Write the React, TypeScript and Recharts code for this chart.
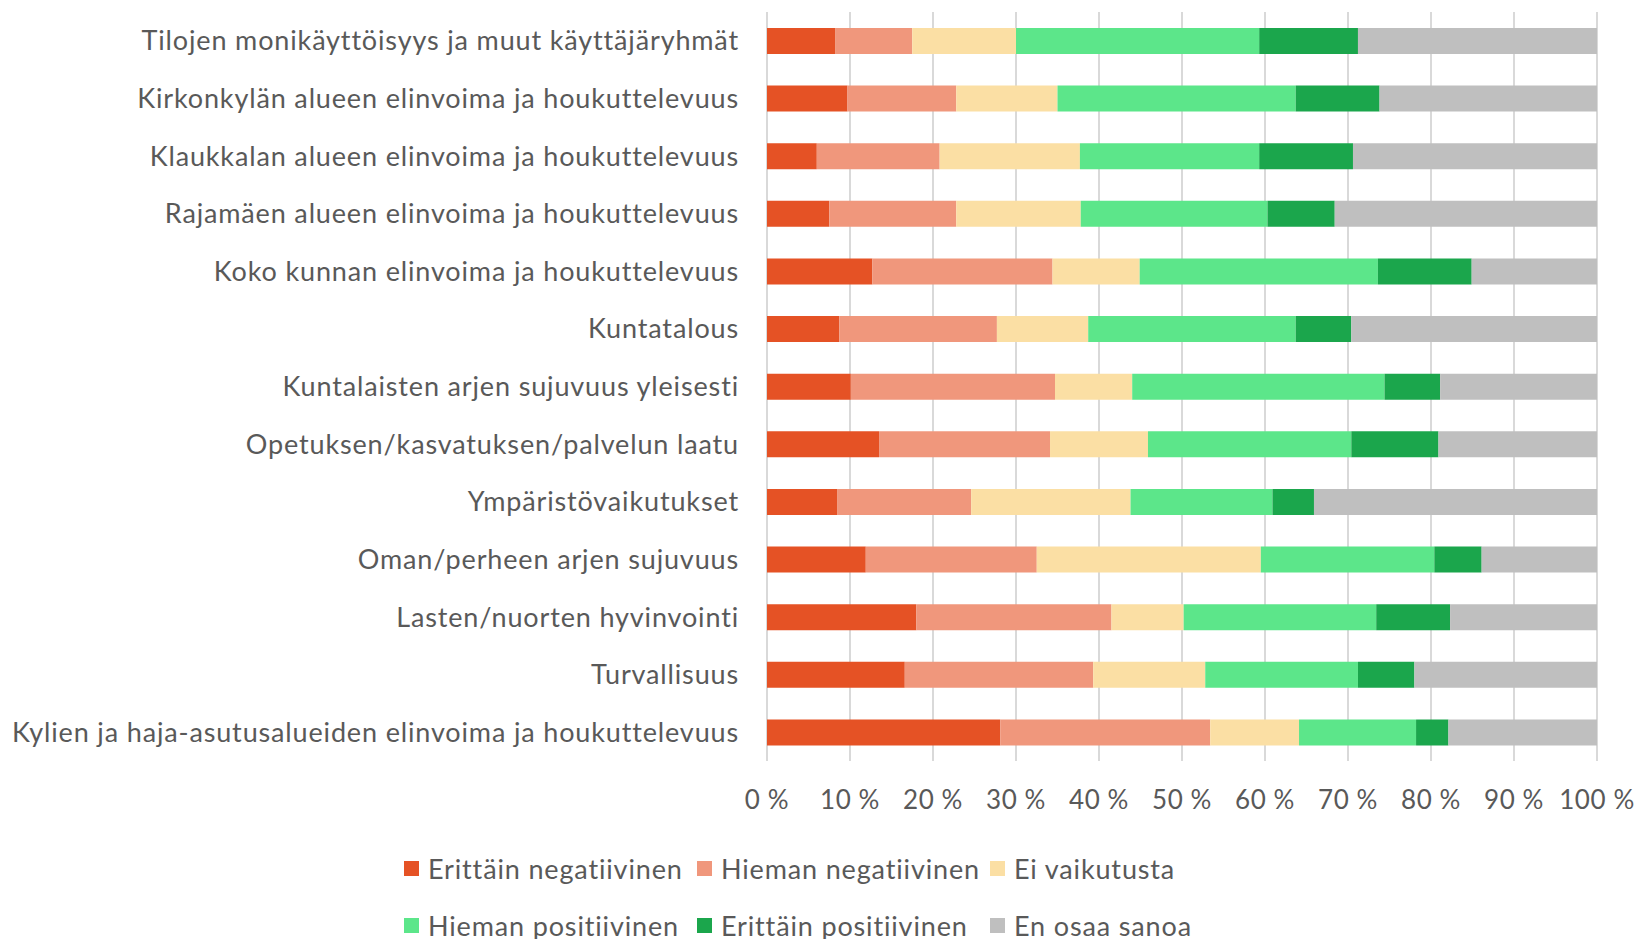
import React from 'react';
import {
  BarChart,
  Bar,
  XAxis,
  YAxis,
  CartesianGrid,
  Legend,
} from 'recharts';

const categories = [
  'Tilojen monikäyttöisyys ja muut käyttäjäryhmät',
  'Kirkonkylän alueen elinvoima ja houkuttelevuus',
  'Klaukkalan alueen elinvoima ja houkuttelevuus',
  'Rajamäen alueen elinvoima ja houkuttelevuus',
  'Koko kunnan elinvoima ja houkuttelevuus',
  'Kuntatalous',
  'Kuntalaisten arjen sujuvuus yleisesti',
  'Opetuksen/kasvatuksen/palvelun laatu',
  'Ympäristövaikutukset',
  'Oman/perheen arjen sujuvuus',
  'Lasten/nuorten hyvinvointi',
  'Turvallisuus',
  'Kylien ja haja-asutusalueiden elinvoima ja houkuttelevuus',
];

const erittainNeg = [8.2, 9.7, 6.0, 7.5, 12.7, 8.7, 10.1, 13.5, 8.5, 11.9, 18.0, 16.6, 28.1];
const hiemanNeg = [9.3, 13.1, 14.8, 15.3, 21.7, 19.0, 24.6, 20.6, 16.1, 20.6, 23.5, 22.7, 25.3];
const eiVaikutusta = [12.5, 12.2, 16.9, 15.0, 10.5, 11.0, 9.3, 11.8, 19.2, 27.0, 8.7, 13.5, 10.7];
const hiemanPos = [29.3, 28.7, 21.6, 22.5, 28.7, 25.0, 30.4, 24.5, 17.1, 20.9, 23.2, 18.4, 14.1];
const erittainPos = [11.9, 10.1, 11.3, 8.1, 11.3, 6.7, 6.7, 10.5, 5.0, 5.7, 8.9, 6.8, 3.9];
const enOsaa = [28.8, 26.2, 29.4, 31.6, 15.1, 29.6, 18.9, 19.1, 34.1, 13.9, 17.7, 22.0, 17.9];

const seriesNames = [
  'Erittäin negatiivinen',
  'Hieman negatiivinen',
  'Ei vaikutusta',
  'Hieman positiivinen',
  'Erittäin positiivinen',
  'En osaa sanoa',
];
const seriesValues = [erittainNeg, hiemanNeg, eiVaikutusta, hiemanPos, erittainPos, enOsaa];
const seriesColors = ['#E55225', '#F0977C', '#FBDFA4', '#5CE68A', '#1BA64C', '#BFBFBF'];

const xTicks = [0, 10, 20, 30, 40, 50, 60, 70, 80, 90, 100];

const FONT = 'Lato, "Open Sans", sans-serif';
const TEXT = '#595959';

const data = categories.map((name, i) => {
  const row: Record<string, string | number> = { name };
  seriesNames.forEach((s, j) => {
    row[s] = seriesValues[j][i];
  });
  return row;
});

// keep legend in series order (recharts sorts by name otherwise)
const renderLegend = (props: any) => {
  const payload = [...(props.payload || [])].sort(
    (a: any, b: any) => seriesNames.indexOf(a.value) - seriesNames.indexOf(b.value)
  );
  return (
    <div
      style={{
        display: 'grid',
        gridTemplateColumns: 'repeat(3, 293px)',
        rowGap: 29,
        paddingTop: 45,
        paddingLeft: 404,
        fontFamily: FONT,
        fontSize: 27,
        letterSpacing: 0.85,
        color: TEXT,
      }}
    >
      {payload.map((p: any) => (
        <div key={p.value} style={{ display: 'flex', alignItems: 'center', height: 28, whiteSpace: 'nowrap' }}>
          <span style={{ width: 15, height: 15, background: p.color, marginRight: 9, display: 'inline-block' }} />
          <span>{p.value}</span>
        </div>
      ))}
    </div>
  );
};

export default function App() {
  return (
    <div style={{ width: 1641, height: 939, background: '#fff' }}>
      <style>{'body{margin:0}'}</style>
      <BarChart
        width={1641}
        height={939}
        data={data}
        layout="vertical"
        margin={{ top: 12, right: 44, left: 0, bottom: 0 }}
        barSize={26}
      >
        <CartesianGrid horizontal={false} stroke="#D9D9D9" strokeWidth={2} />
        <XAxis
          type="number"
          domain={[0, 100]}
          ticks={xTicks}
          tickFormatter={(v: number) => `${v} %`}
          axisLine={false}
          tickLine={false}
          height={48}
          tickMargin={24}
          tick={{ fill: TEXT, fontSize: 26, fontFamily: FONT, letterSpacing: 0.6 }}
          interval={0}
        />
        <YAxis
          type="category"
          dataKey="name"
          width={767}
          axisLine={false}
          tickLine={false}
          tickMargin={22}
          interval={0}
          tick={{ fill: TEXT, fontSize: 27, fontFamily: FONT, letterSpacing: 0.85 }}
        />
        <Legend
          verticalAlign="bottom"
          content={renderLegend}
          wrapperStyle={{ left: 0, bottom: 0, width: 1641, height: 130 }}
        />
        {seriesNames.map((s, j) => (
          <Bar key={s} dataKey={s} stackId="a" fill={seriesColors[j]} isAnimationActive={false} />
        ))}
      </BarChart>
    </div>
  );
}
